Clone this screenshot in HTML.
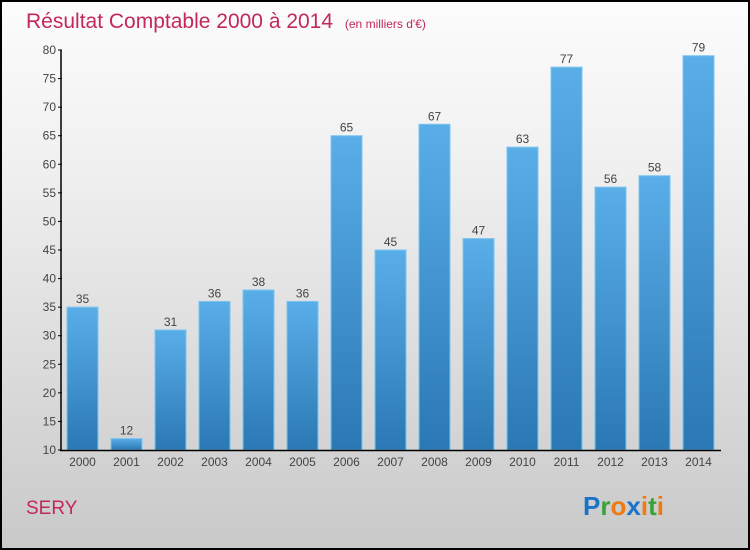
<!DOCTYPE html>
<html><head><meta charset="utf-8"><style>
body{margin:0}
#c{width:750px;height:550px;position:relative;box-sizing:border-box;border:2px solid #000;background:linear-gradient(#fcfcfc,#f0f0f0 30%,#c9c9c9);font-family:"Liberation Sans",sans-serif;overflow:hidden}
</style></head><body>
<div id="c">
<svg width="750" height="550" style="position:absolute;left:-2px;top:-2px">
<defs><linearGradient id="bg" x1="0" y1="0" x2="0" y2="1"><stop offset="0" stop-color="#5aaee8"/><stop offset="1" stop-color="#2a78b4"/></linearGradient></defs>
<text x="26" y="28" font-size="21" fill="#c2285e">Résultat Comptable 2000 à 2014 <tspan font-size="12" dx="6">(en milliers d'€)</tspan></text>
<g id="g"></g>
<text x="26" y="514" font-size="19" fill="#c2285e">SERY</text>
<text x="583" y="515" font-size="26" font-weight="bold"><tspan fill="#1a73c8">P</tspan><tspan fill="#3aa23a">r</tspan><tspan fill="#f07a10">o</tspan><tspan fill="#1a73c8">x</tspan><tspan fill="#f07a10">i</tspan><tspan fill="#3aa23a">t</tspan><tspan fill="#f07a10">i</tspan></text>
</svg></div>
<script>
const years=["2000","2001","2002","2003","2004","2005","2006","2007","2008","2009","2010","2011","2012","2013","2014"];
const values=[35,12,31,36,38,36,65,45,67,47,63,77,56,58,79];
const yTicks=[10,15,20,25,30,35,40,45,50,55,60,65,70,75,80];
const g=document.getElementById('g');const ns='http://www.w3.org/2000/svg';
const y=v=>450-(v-10)*400/70;const x=i=>67+i*44;
function mk(t,a){const e=document.createElementNS(ns,t);for(const k in a)e.setAttribute(k,a[k]);g.appendChild(e);return e;}
yTicks.forEach(t=>{const l=mk('line',{x1:58,x2:62,y1:y(t),y2:y(t),stroke:'#000'});


const tx=mk('text',{x:56,y:y(t)+4,'text-anchor':'end','font-size':12,fill:'#444'});tx.textContent=t;

});
values.forEach((v,i)=>{const r=mk('rect',{x:x(i),y:y(v),width:31,height:450-y(v),fill:'url(#bg)',stroke:'#7cc4f0','stroke-width':1});


const t=mk('text',{x:x(i)+15.5,y:y(v)-4,'text-anchor':'middle','font-size':12,fill:'#444'});t.textContent=v;


const xl=mk('text',{x:x(i)+15.5,y:466,'text-anchor':'middle','font-size':12,fill:'#444'});xl.textContent=years[i];

});
const ya=mk('line',{x1:61,x2:61,y1:50,y2:451,stroke:'#000','stroke-width':1.5});


const xa=mk('line',{x1:60,x2:721,y1:450.5,y2:450.5,stroke:'#000','stroke-width':1.5});


</script>
</body></html>
